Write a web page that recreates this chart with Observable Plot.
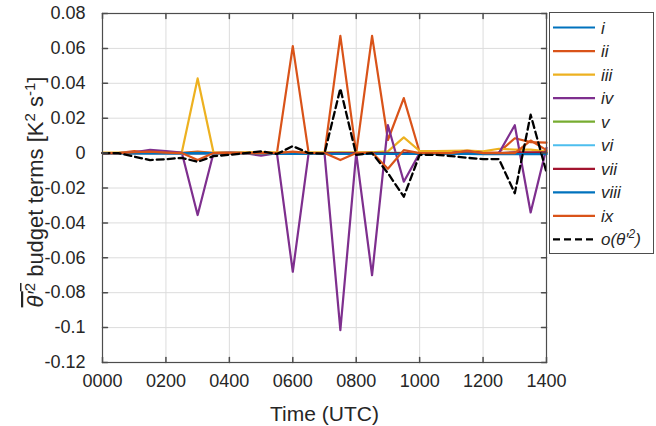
<!DOCTYPE html>
<html><head><meta charset="utf-8">
<script src="https://cdn.jsdelivr.net/npm/d3@7"></script>
<script src="https://cdn.jsdelivr.net/npm/@observablehq/plot@0.6"></script>
<style>
body{margin:0;background:#fff;}
#chart{position:relative;width:656px;height:426px;}
svg{font-family:"Liberation Sans",Arial,Helvetica,sans-serif;}
</style>
</head><body><div id="chart"></div>
<script>
// Time in hours (UTC)
const time = [0,0.5,1,1.5,2,2.5,3,3.5,4,4.5,5,5.5,6,6.5,7,7.5,8,8.5,9,9.5,10,10.5,11,11.5,12,12.5,13,13.5,14];
const xTickValues = [0,2,4,6,8,10,12,14];
const xTickLabels = ["0000","0200","0400","0600","0800","1000","1200","1400"];
const yTickValues = [-0.12,-0.1,-0.08,-0.06,-0.04,-0.02,0,0.02,0.04,0.06,0.08];
const yTickLabels = ["-0.12","-0.1","-0.08","-0.06","-0.04","-0.02","0","0.02","0.04","0.06","0.08"];

const seriesNames = ["i","ii","iii","iv","v","vi","vii","viii","ix"];
const seriesColors = ["#0072BD","#D95319","#EDB120","#7E2F8E","#77AC30","#4DBEEE","#A2142F","#0072BD","#D95319"];

const term_i    = [0,0,0,0,0,0,0,0,0,0,0,-0.0003,-0.0003,-0.0003,-0.0003,-0.0003,-0.0003,-0.0003,-0.0003,-0.0004,-0.0004,-0.0004,-0.0004,-0.0004,-0.0004,-0.0004,-0.0004,-0.0004,-0.0004];
const term_ii   = [0,0,0.0012,0.0005,0.0003,0.0002,0.0008,0.0002,0.0003,0.0002,0.0005,0,0.0613,0,0,0.0672,0,0.0672,0.0075,0.0315,0.0005,0.0003,0.0002,0.0015,0.0003,0.0005,0.0085,0.0063,0.006];
const term_iii  = [0.0003,0.0003,0.0003,0.0003,0.0003,0.0003,0.0428,0.0003,0.0005,0.0005,0.0005,0.0005,0.0005,0.0005,0.0005,0.0005,0.0005,0.0005,0.001,0.009,0.0012,0.0012,0.0013,0.0015,0.001,0.0025,0.002,0.002,0.001];
const term_iv   = [0,0,0.0005,0.0018,0.0012,0.0003,-0.0355,0,0.0003,0,-0.0015,0,-0.068,0,0,-0.1015,0,-0.070,0.016,-0.0164,0,0,0,0.0008,0,0,0.016,-0.034,0.003];
const term_v    = [0,0,0,0,0,0,0.0002,0,0,0,0,0,0.0002,0,0,0.0002,0,0.0002,0.0002,0.0002,0,0,0,0,0,0,0.0002,0.0002,0.0002];
const term_vi   = [0,0,-0.0003,-0.0005,-0.0005,-0.0005,-0.0005,-0.0003,0,0,0,0,-0.0003,0,0,-0.0003,0,-0.0003,-0.0003,-0.0003,0,0,0,0,0,0,-0.0003,-0.0003,-0.0003];
const term_vii  = [0,0,0,0,0,0,0,0,0,0,0,0,0,0,0,0,0,0,0,0,0,0,0,0.001,0,0,0.0005,0.0005,0.0005];
const term_viii = [0,0,0,0,0,0,0,0,0,0,0,-0.0004,-0.0005,-0.0005,-0.0005,-0.0005,-0.0005,-0.0005,-0.0005,-0.0005,-0.0005,-0.0005,-0.0005,-0.0005,-0.0006,-0.0006,-0.0006,-0.0006,-0.0006];
const term_ix   = [0,0,0.0005,0.0008,0.0003,0,-0.004,0,0,0,0,0,0.0008,0,0,-0.004,0,0.0003,-0.009,0.0017,0,0,0,0.0012,0,0,0,0.0072,0.0017];
const residual  = [0,0,-0.002,-0.004,-0.0035,-0.0027,-0.005,-0.0017,-0.001,0,0.001,-0.0005,0.004,0,-0.0003,0.037,-0.001,0,-0.0115,-0.025,-0.001,-0.001,-0.0017,-0.0027,-0.0034,-0.0034,-0.023,0.022,-0.011];

const seriesValues = [term_i,term_ii,term_iii,term_iv,term_v,term_vi,term_vii,term_viii,term_ix];
const toRows = vals => time.map((t,j) => ({t, v: vals[j]}));

const tickShape = {draw(ctx, l){ ctx.moveTo(0,0); ctx.lineTo(0,-l); }};
const axisColor = "#4d4d4d";

const marks = [
  Plot.gridX(xTickValues, {stroke:"#dcdcdc", strokeOpacity:1}),
  Plot.gridY(yTickValues, {stroke:"#dcdcdc", strokeOpacity:1}),
  ...seriesValues.map((vals,k) => Plot.line(toRows(vals), {x:"t", y:"v", stroke: seriesColors[k], strokeWidth:2.2})),
  Plot.line(toRows(residual), {x:"t", y:"v", stroke:"#000", strokeWidth:2.3, strokeDasharray:"7,4"}),
  Plot.frame({stroke: axisColor, strokeWidth:1.2}),
  Plot.vector(xTickValues, {x:d=>d, frameAnchor:"bottom", rotate:0, length:5, anchor:"start", shape:tickShape, stroke:axisColor}),
  Plot.vector(xTickValues, {x:d=>d, frameAnchor:"top", rotate:180, length:5, anchor:"start", shape:tickShape, stroke:axisColor}),
  Plot.vector(yTickValues, {y:d=>d, frameAnchor:"left", rotate:90, length:5, anchor:"start", shape:tickShape, stroke:axisColor}),
  Plot.vector(yTickValues, {y:d=>d, frameAnchor:"right", rotate:-90, length:5, anchor:"start", shape:tickShape, stroke:axisColor}),
  Plot.axisX(xTickValues, {tickSize:0, tickPadding:12, fontSize:18, tickFormat:(d)=>xTickLabels[xTickValues.indexOf(d)], label:null, color:"#262626"}),
  Plot.axisY(yTickValues, {tickSize:0, tickPadding:17, fontSize:18, tickFormat:(d)=>yTickLabels[yTickValues.indexOf(d)], label:null, color:"#262626"}),
  Plot.text(["Time (UTC)"], {frameAnchor:"bottom", dy:44, fontSize:21, fill:"#262626", lineAnchor:"top"})
];

const chart = Plot.plot({
  width:656, height:426,
  marginLeft:102, marginRight:110, marginTop:13, marginBottom:64,
  x:{domain:[0,14]},
  y:{domain:[-0.12,0.08]},
  style:{fontFamily:'"Liberation Sans",Arial,Helvetica,sans-serif', background:"#fff"},
  marks
});
document.getElementById("chart").appendChild(chart);

const svg = d3.select(chart);
// y-axis label
const yl = svg.append("text")
  .attr("transform","translate(43,192) rotate(-90)")
  .attr("text-anchor","middle")
  .attr("font-size",22)
  .attr("fill","#262626");
const ov = yl.append("tspan").style("text-decoration","overline");
ov.append("tspan").attr("font-style","italic").text("θ′");
ov.append("tspan").attr("font-size",15).attr("dy",-8).text("2");
yl.append("tspan").attr("dy",8).text(" budget terms [K");
yl.append("tspan").attr("font-size",15).attr("dy",-8).text("2");
yl.append("tspan").attr("dy",8).text(" s");
yl.append("tspan").attr("font-size",15).attr("dy",-8).text("-1");
yl.append("tspan").attr("dy",8).text("]");

// legend
const lg = svg.append("g").attr("text-anchor","start");
const legX = 549, legY = 12, legW = 104, legH = 241, rowH = 23.55, row0 = 27.5;
lg.append("rect").attr("x",legX+0.5).attr("y",legY+0.5).attr("width",legW).attr("height",legH)
  .attr("fill","#fff").attr("stroke",axisColor).attr("stroke-width",1);
const legNames = [...seriesNames, "o"];
legNames.forEach((nm,k) => {
  const cy = row0 + k*rowH;
  const isRes = k === seriesNames.length;
  lg.append("line").attr("x1",553).attr("x2",595).attr("y1",cy).attr("y2",cy)
    .attr("stroke", isRes ? "#000" : seriesColors[k]).attr("stroke-width",2.2)
    .attr("stroke-dasharray", isRes ? "7,4" : null);
  const t = lg.append("text").attr("x",601).attr("y",cy+6).attr("font-size",17)
    .attr("text-anchor","start").attr("font-style","italic").attr("fill","#262626");
  if (!isRes) t.text(nm);
  else {
    t.append("tspan").text("o(θ′");
    t.append("tspan").attr("font-size",12).attr("dy",-7).text("2");
    t.append("tspan").attr("dy",7).text(")");
  }
});
</script>
</body></html>
